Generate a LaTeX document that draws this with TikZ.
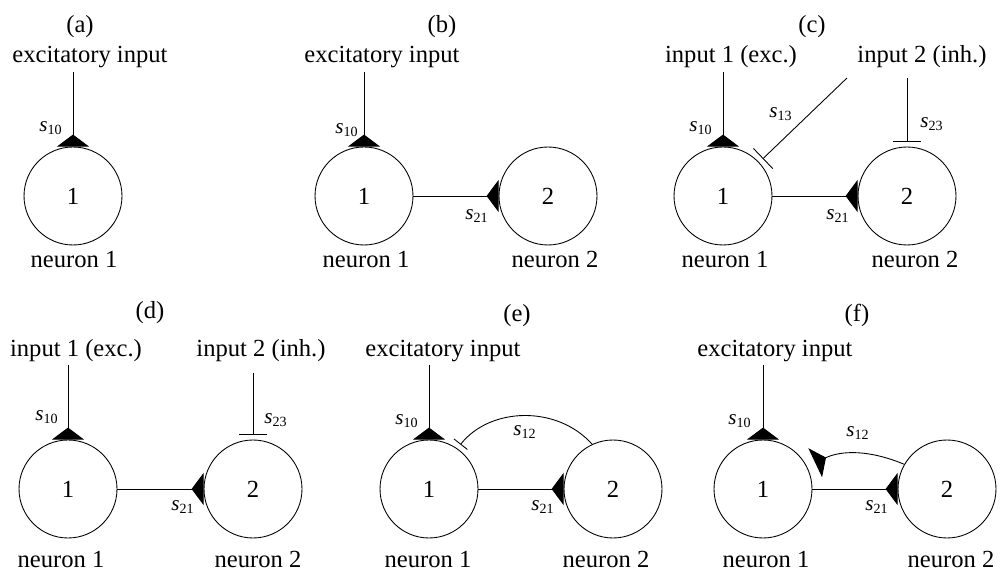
\documentclass[tikz,border=0pt]{standalone}
\usepackage{fontspec}
\setmainfont{Liberation Serif}
\usetikzlibrary{arrows.meta}

\begin{document}
\begin{tikzpicture}[
  x=0.02cm, y=-0.02cm,
  font=\fontsize{14}{17}\selectfont,
  neuron/.style = {draw, circle, minimum size=1.96cm, inner sep=0pt,
                   line width=0.5pt},
  lbl/.style    = {anchor=base, inner sep=0pt},
  syn/.style    = {inner sep=0pt, font=\fontsize{12}{14}\selectfont},
  exc/.style    = {-{Triangle[reversed, width=0.64cm, length=0.24cm]},
                   line width=0.5pt},
  inh/.style    = {-{Bar[width=#1]}, line width=0.5pt, shorten >=0.1cm},
  inh/.default  = 0.56cm,
]
\useasboundingbox (0,0) rectangle (1000,570);

%% (a) single neuron
\node[neuron] (n1a) at (73,196) {1};
\coordinate (ina) at (73,72);
\node[lbl] (ta) at (80,33) {(a)};
\node[lbl] (ea) at (90,63) {excitatory input};
\node[lbl] (la) at (74,268) {neuron 1};
\node[syn] (s10a) at (51,128) {\textit{s}\textsubscript{10}};
\draw[exc] (ina) -- (n1a);

%% (b) feed-forward pair
\node[neuron] (n1b) at (364,196) {1};
\node[neuron] (n2b) at (548,196) {2};
\coordinate (inb) at (364,72);
\node[lbl] (tb) at (442,33) {(b)};
\node[lbl] (eb) at (382,63) {excitatory input};
\node[lbl] (l1b) at (366,268) {neuron 1};
\node[lbl] (l2b) at (555,268) {neuron 2};
\node[syn] (s10b) at (347,130) {\textit{s}\textsubscript{10}};
\node[syn] (s21b) at (477,216) {\textit{s}\textsubscript{21}};
\draw[exc] (inb) -- (n1b);
\draw[exc] (n1b) -- (n2b);

%% (c) two inputs, cross inhibition
\node[neuron] (n1c) at (723,196) {1};
\node[neuron] (n2c) at (907,196) {2};
\coordinate (in1c) at (723,72);
\coordinate (in2c) at (907,78);
\coordinate (in3c) at (847,78);
\node[lbl] (tc) at (812,33) {(c)};
\node[lbl] (e1c) at (731,63) {input 1 (exc.)};
\node[lbl] (e2c) at (922,63) {input 2 (inh.)};
\node[lbl] (l1c) at (725,268) {neuron 1};
\node[lbl] (l2c) at (915,268) {neuron 2};
\node[syn] (s10c) at (701,128) {\textit{s}\textsubscript{10}};
\node[syn] (s13c) at (781,114) {\textit{s}\textsubscript{13}};
\node[syn] (s23c) at (932,124) {\textit{s}\textsubscript{23}};
\node[syn] (s21c) at (838,216) {\textit{s}\textsubscript{21}};
\draw[exc] (in1c) -- (n1c);
\draw[inh] (in3c) -- (n1c.43);
\draw[inh] (in2c) -- (n2c);
\draw[exc] (n1c) -- (n2c);

%% (d) two inputs
\node[neuron] (n1d) at (68,489) {1};
\node[neuron] (n2d) at (253,489) {2};
\coordinate (in1d) at (68,365);
\coordinate (in2d) at (253,373);
\node[lbl] (td) at (150,319) {(d)};
\node[lbl] (e1d) at (76,357) {input 1 (exc.)};
\node[lbl] (e2d) at (261,357) {input 2 (inh.)};
\node[lbl] (l1d) at (61,567) {neuron 1};
\node[lbl] (l2d) at (258,567) {neuron 2};
\node[syn] (s10d) at (47,417) {\textit{s}\textsubscript{10}};
\node[syn] (s23d) at (276,420) {\textit{s}\textsubscript{23}};
\node[syn] (s21d) at (183,507) {\textit{s}\textsubscript{21}};
\draw[exc] (in1d) -- (n1d);
\draw[inh] (in2d) -- (n2d);
\draw[exc] (n1d) -- (n2d);

%% (e) inhibitory feedback
\node[neuron] (n1e) at (429,489) {1};
\node[neuron] (n2e) at (613,489) {2};
\coordinate (ine) at (429,365);
\node[lbl] (te) at (517,322) {(e)};
\node[lbl] (ee) at (443,357) {excitatory input};
\node[lbl] (l1e) at (428,567) {neuron 1};
\node[lbl] (l2e) at (606,567) {neuron 2};
\node[syn] (s10e) at (407,421) {\textit{s}\textsubscript{10}};
\node[syn] (s12e) at (525,432) {\textit{s}\textsubscript{12}};
\node[syn] (s21e) at (543,507) {\textit{s}\textsubscript{21}};
\draw[exc] (ine) -- (n1e);
\draw[exc] (n1e) -- (n2e);
\draw[inh=0.34cm] (n2e.115) to[bend right=50] (n1e.55);

%% (f) excitatory feedback
\node[neuron] (n1f) at (763,489) {1};
\node[neuron] (n2f) at (947,489) {2};
\coordinate (inf) at (763,365);
\node[lbl] (tf) at (857,322) {(f)};
\node[lbl] (ef) at (775,357) {excitatory input};
\node[lbl] (l1f) at (766,567) {neuron 1};
\node[lbl] (l2f) at (951,567) {neuron 2};
\node[syn] (s10f) at (740,421) {\textit{s}\textsubscript{10}};
\node[syn] (s12f) at (858,433) {\textit{s}\textsubscript{12}};
\node[syn] (s21f) at (877,507) {\textit{s}\textsubscript{21}};
\draw[exc] (inf) -- (n1f);
\draw[exc] (n1f) -- (n2f);
\draw[exc, shorten >=0.18cm] (n2f.150) to[bend right=24] (n1f.27);

\end{tikzpicture}
\end{document}
